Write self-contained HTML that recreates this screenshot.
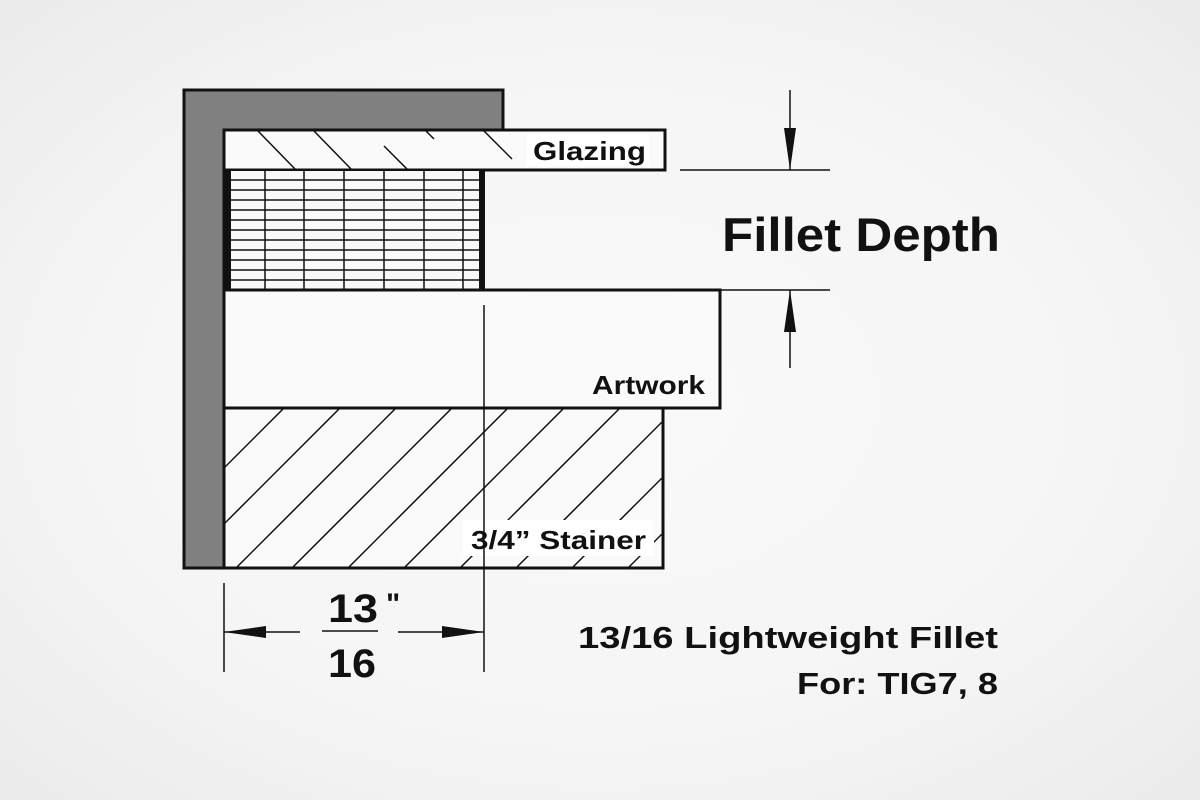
<!DOCTYPE html>
<html><head><style>
html,body{margin:0;padding:0;width:1200px;height:800px;overflow:hidden;background:radial-gradient(ellipse at center,#fafafa 0%,#f5f5f5 60%,#ebebeb 100%);}
svg{display:block}
text{font-family:"Liberation Sans",sans-serif;font-weight:bold;fill:#111}
</style></head><body>
<svg width="1200" height="800" viewBox="0 0 1200 800">
<defs>
<clipPath id="gc"><rect x="224" y="130" width="441" height="40"/></clipPath>
<clipPath id="sc"><rect x="224" y="408" width="439" height="160"/></clipPath>
</defs>
<path d="M184 90 H503 V130 H224 V568 H184 Z" fill="#808080" stroke="#111" stroke-width="3"/>
<rect x="224" y="130" width="441" height="40" fill="#fafafa" stroke="#111" stroke-width="3"/>
<g clip-path="url(#gc)" stroke="#111" stroke-width="1.5">
<line x1="258" y1="131" x2="296" y2="170"/>
<line x1="314" y1="131" x2="352" y2="170"/>
<line x1="384" y1="146" x2="408" y2="170"/>
<line x1="426" y1="131" x2="434" y2="139"/>
<line x1="484" y1="131" x2="512" y2="159"/>
</g>
<rect x="527" y="134" width="122" height="32" fill="#fff"/>
<text x="533" y="160" font-size="26" textLength="113" lengthAdjust="spacingAndGlyphs">Glazing</text>
<rect x="224" y="170" width="260" height="120" fill="#f8f8f8" stroke="#111" stroke-width="2"/>
<g stroke="#111" stroke-width="1.5">
<line x1="265" y1="170" x2="265" y2="290"/><line x1="304" y1="170" x2="304" y2="290"/>
<line x1="344" y1="170" x2="344" y2="290"/><line x1="384" y1="170" x2="384" y2="290"/>
<line x1="424" y1="170" x2="424" y2="290"/><line x1="463" y1="170" x2="463" y2="290"/>
<line x1="224" y1="180" x2="482" y2="180"/><line x1="224" y1="190" x2="482" y2="190"/>
<line x1="224" y1="200" x2="482" y2="200"/><line x1="224" y1="210" x2="482" y2="210"/>
<line x1="224" y1="220" x2="482" y2="220"/><line x1="224" y1="230" x2="482" y2="230"/>
<line x1="224" y1="240" x2="482" y2="240"/><line x1="224" y1="250" x2="482" y2="250"/>
<line x1="224" y1="260" x2="482" y2="260"/><line x1="224" y1="270" x2="482" y2="270"/>
<line x1="224" y1="280" x2="482" y2="280"/>
</g>
<rect x="225" y="170" width="6" height="120" fill="#111"/>
<rect x="479" y="170" width="6" height="120" fill="#111"/>
<rect x="224" y="290" width="496" height="118" fill="#fafafa" stroke="#111" stroke-width="3"/>
<text x="592" y="394" font-size="26" textLength="113" lengthAdjust="spacingAndGlyphs">Artwork</text>
<rect x="224" y="408" width="439" height="160" fill="#fafafa" stroke="#111" stroke-width="3"/>
<g clip-path="url(#sc)" stroke="#111" stroke-width="1.5">
<line x1="180" y1="568" x2="340" y2="408"/><line x1="236" y1="568" x2="396" y2="408"/>
<line x1="292" y1="568" x2="452" y2="408"/><line x1="348" y1="568" x2="508" y2="408"/>
<line x1="404" y1="568" x2="564" y2="408"/><line x1="460" y1="568" x2="620" y2="408"/>
<line x1="516" y1="568" x2="676" y2="408"/><line x1="572" y1="568" x2="732" y2="408"/>
<line x1="628" y1="568" x2="788" y2="408"/><line x1="124" y1="568" x2="284" y2="408"/>
</g>
<rect x="463" y="520" width="191" height="36" fill="#fff"/>
<text x="471" y="549" font-size="26" textLength="175" lengthAdjust="spacingAndGlyphs">3/4” Stainer</text>
<rect x="224" y="408" width="439" height="160" fill="none" stroke="#111" stroke-width="3"/>
<g stroke="#111" stroke-width="1.5">
<line x1="484" y1="305" x2="484" y2="672"/>
<line x1="224" y1="583" x2="224" y2="672"/>
<line x1="224" y1="632" x2="300" y2="632"/>
<line x1="398" y1="632" x2="484" y2="632"/>
<line x1="322" y1="631" x2="378" y2="631"/>
<line x1="680" y1="170" x2="830" y2="170"/>
<line x1="720" y1="290" x2="830" y2="290"/>
<line x1="790" y1="90" x2="790" y2="170"/>
<line x1="790" y1="290" x2="790" y2="368"/>
</g>
<path d="M224 632 L266 626 L266 638 Z" fill="#111"/>
<path d="M484 632 L442 626 L442 638 Z" fill="#111"/>
<path d="M790 170 L784 128 L796 128 Z" fill="#111"/>
<path d="M790 290 L784 332 L796 332 Z" fill="#111"/>
<text x="328" y="622" font-size="40" textLength="50" lengthAdjust="spacingAndGlyphs">13</text>
<text x="386" y="614" font-size="30">"</text>
<text x="328" y="677" font-size="40" textLength="48" lengthAdjust="spacingAndGlyphs">16</text>
<text x="722" y="251" font-size="47" textLength="278" lengthAdjust="spacingAndGlyphs">Fillet Depth</text>
<text x="578" y="648" font-size="31" textLength="420" lengthAdjust="spacingAndGlyphs">13/16 Lightweight Fillet</text>
<text x="797" y="694" font-size="31" textLength="201" lengthAdjust="spacingAndGlyphs">For: TIG7, 8</text>
</svg>
</body></html>
